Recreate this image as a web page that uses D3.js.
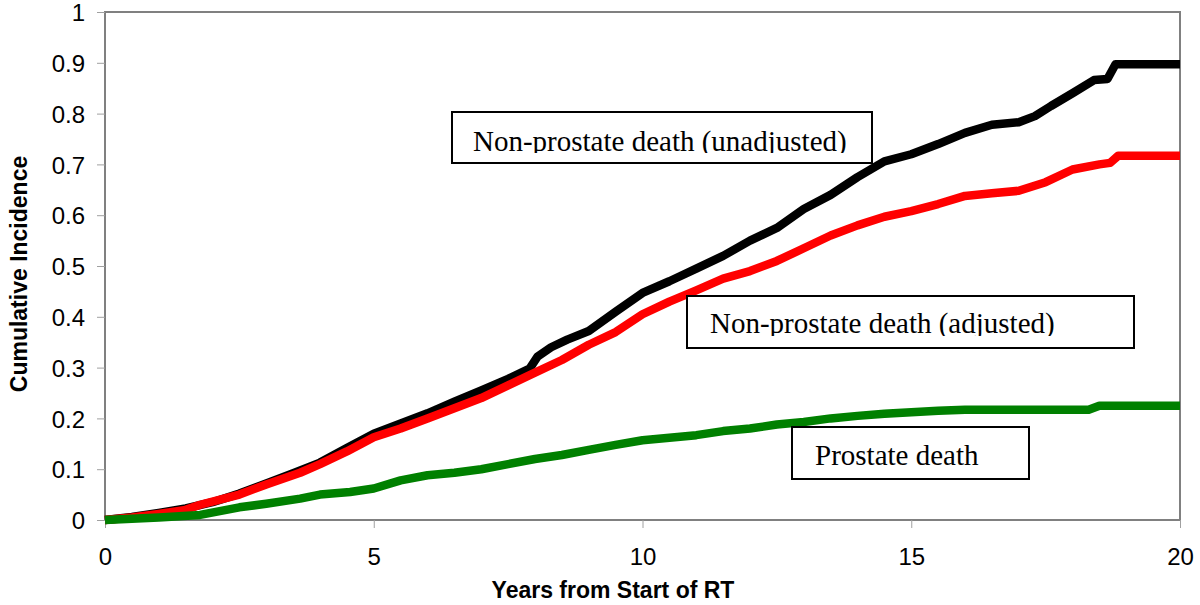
<!DOCTYPE html>
<html><head><meta charset="utf-8">
<script src="https://cdn.jsdelivr.net/npm/d3@7"></script>
<style>body{margin:0;background:#fff}</style>
</head><body>
<svg id="c" width="1200" height="605"></svg>
<script>
const xTicks = [0,5,10,15,20];
const yTicks = [0,0.1,0.2,0.3,0.4,0.5,0.6,0.7,0.8,0.9,1];
const unadjusted = [[0,0],[0.5,0.006],[1,0.014],[1.5,0.023],[2,0.035],[2.5,0.052],[3,0.072],[3.5,0.092],[4,0.113],[4.5,0.142],[5,0.17],[5.5,0.19],[6,0.21],[6.5,0.233],[7,0.255],[7.5,0.278],[7.9,0.298],[8.05,0.322],[8.3,0.34],[8.6,0.355],[9,0.372],[9.5,0.41],[10,0.447],[10.5,0.47],[11,0.495],[11.5,0.52],[12,0.55],[12.5,0.575],[13,0.612],[13.5,0.64],[14,0.675],[14.5,0.706],[15,0.72],[15.5,0.74],[16,0.762],[16.5,0.778],[17,0.783],[17.3,0.795],[17.6,0.815],[18,0.84],[18.4,0.866],[18.65,0.868],[18.8,0.897],[20,0.897]];
const adjusted = [[0,0],[0.5,0.005],[1,0.012],[1.5,0.02],[1.77,0.03],[2.5,0.05],[3,0.07],[3.63,0.093],[4,0.11],[4.5,0.135],[5,0.163],[5.5,0.18],[6,0.2],[6.5,0.22],[7,0.24],[7.5,0.265],[8,0.29],[8.5,0.315],[9,0.345],[9.5,0.37],[10,0.405],[10.5,0.43],[11,0.452],[11.5,0.475],[12,0.49],[12.5,0.51],[13,0.535],[13.5,0.56],[14,0.58],[14.5,0.597],[15,0.608],[15.5,0.622],[16,0.638],[16.5,0.643],[17,0.648],[17.5,0.665],[18,0.69],[18.5,0.7],[18.7,0.703],[18.85,0.717],[20,0.717]];
const prostate = [[0,0],[1,0.005],[1.77,0.01],[2.5,0.025],[3,0.032],[3.63,0.042],[4,0.05],[4.56,0.055],[5,0.062],[5.5,0.078],[6,0.088],[6.5,0.093],[7,0.1],[7.5,0.11],[8,0.12],[8.5,0.128],[9,0.138],[9.5,0.148],[10,0.157],[10.5,0.162],[11,0.167],[11.5,0.175],[12,0.18],[12.5,0.188],[13,0.193],[13.5,0.2],[14,0.205],[14.5,0.209],[15,0.212],[15.5,0.215],[16,0.217],[18.3,0.217],[18.5,0.225],[20,0.225]];
const seriesNames = ["Non-prostate death (unadjusted)","Non-prostate death (adjusted)","Prostate death"];
const seriesColors = ["#000000","#ff0000","#008000"];

const svg = d3.select("#c");
const x = d3.scaleLinear().domain([0,20]).range([105,1180]);
const y = d3.scaleLinear().domain([0,1]).range([520,12]);

svg.append("rect").attr("x",x(0)).attr("y",y(1)).attr("width",x(20)-x(0)).attr("height",y(0)-y(1))
  .attr("fill","none").attr("stroke","#808080").attr("stroke-width",2);

const ya = svg.append("g").attr("transform",`translate(${x(0)},0)`)
  .call(d3.axisLeft(y).tickValues(yTicks).tickSize(8).tickPadding(12).tickFormat(d=>d3.format("")(+d.toFixed(1))));
const xa = svg.append("g").attr("transform",`translate(0,${y(0)})`)
  .call(d3.axisBottom(x).tickValues(xTicks).tickSize(8).tickPadding(20));
[ya,xa].forEach(a=>{
  a.select(".domain").remove();
  a.selectAll(".tick line").attr("stroke","#a0a0a0").attr("stroke-width",1);
  a.selectAll(".tick text").attr("font-family","'Liberation Sans', Arial, sans-serif").attr("font-size",24).attr("fill","#000");
});
ya.selectAll(".tick text").attr("dy","0.36em");

const line = d3.line().x(d=>x(d[0])).y(d=>y(d[1]));
[unadjusted, adjusted, prostate].forEach((s,i)=>{
  svg.append("path").datum(s).attr("d",line).attr("fill","none")
    .attr("stroke",seriesColors[i]).attr("stroke-width",8.5).attr("stroke-linejoin","round").attr("stroke-linecap","butt");
});

const boxes = [
  {x:452,y:112,w:420,h:51,tx:473,ty:151,clip:153},
  {x:687,y:296,w:447,h:52,tx:710,ty:333,clip:336},
  {x:792,y:427,w:237,h:52,tx:815,ty:465,clip:468}
];
const defs = svg.append("defs");
boxes.forEach((b,i)=>{
  defs.append("clipPath").attr("id","cl"+i).append("rect").attr("x",b.x).attr("y",b.y).attr("width",b.w).attr("height",b.clip-b.y);
  svg.append("rect").attr("x",b.x).attr("y",b.y).attr("width",b.w).attr("height",b.h)
    .attr("fill","#fff").attr("stroke","#000").attr("stroke-width",2);
  svg.append("text").attr("x",b.tx).attr("y",b.ty).attr("clip-path",`url(#cl${i})`)
    .attr("font-family","'Liberation Serif','Times New Roman',serif").attr("font-size",29).attr("fill","#000")
    .text(seriesNames[i]);
});

svg.append("text").attr("x",613).attr("y",598).attr("text-anchor","middle")
  .attr("font-family","'Liberation Sans', Arial, sans-serif").attr("font-weight","bold").attr("font-size",23)
  .text("Years from Start of RT");
svg.append("text").attr("transform","translate(27,274) rotate(-90)").attr("text-anchor","middle")
  .attr("font-family","'Liberation Sans', Arial, sans-serif").attr("font-weight","bold").attr("font-size",23)
  .text("Cumulative Incidence");
</script>
</body></html>
